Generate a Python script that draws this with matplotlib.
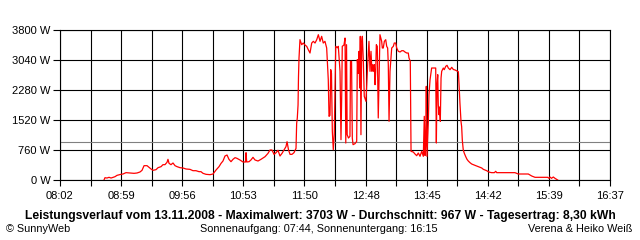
import numpy as np
import matplotlib
matplotlib.use("Agg")
import matplotlib.pyplot as plt

# time in minutes since midnight, power in W
minutes = [
    523.2, 524.1, 526.0, 527.9, 529.8, 531.6, 533.5, 535.4, 539.1, 541.0,
    543.8, 547.5, 551.3, 554.1, 556.9, 558.8, 560.7, 563.5, 565.3, 567.2,
    569.1, 571.9, 573.8, 576.6, 578.4, 580.3, 582.2, 583.1, 584.1, 585.9,
    587.8, 589.7, 591.6, 594.4, 597.2, 600.0, 603.7, 606.5, 609.3, 612.2,
    614.0, 615.9, 618.7, 622.5, 625.3, 628.1, 630.9, 632.8, 634.6, 636.5,
    638.4, 640.2, 642.1, 644.0, 645.9, 647.7, 650.5, 653.4, 655.7, 656.2,
    656.8, 659.0, 660.8, 662.7, 664.6, 667.4, 670.2, 674.0, 676.8, 678.6,
    680.5, 682.4, 684.3, 686.1, 688.0, 689.9, 691.7, 693.6, 694.6, 696.0,
    697.4, 699.2, 701.1, 703.0, 703.6, 704.2, 704.9, 705.3, 705.8, 706.7,
    708.3, 709.8, 711.4, 713.0, 714.5, 716.1, 717.7, 719.2, 720.8, 722.4,
    723.9, 725.5, 727.0, 728.5, 730.1, 731.7, 733.2, 733.9, 734.8, 735.5,
    736.2, 737.0, 737.9, 738.8, 740.2, 741.7, 742.6, 744.2, 745.1, 745.8,
    746.3, 747.9, 748.9, 749.6, 750.3, 750.9, 752.1, 753.5, 754.0, 755.0,
    755.7, 756.4, 758.2, 759.8, 760.4, 761.3, 762.0, 762.6, 763.2, 763.8,
    764.5, 765.1, 766.0, 766.9, 768.5, 770.1, 771.3, 772.3, 773.2, 774.1,
    774.9, 775.7, 776.3, 777.0, 777.6, 778.2, 779.1, 780.0, 780.7, 781.6,
    783.2, 783.8, 784.7, 785.7, 787.0, 787.9, 788.8, 789.4, 790.1, 791.0,
    791.9, 792.6, 794.1, 795.0, 796.3, 797.3, 798.8, 800.4, 802.0, 803.5,
    805.0, 806.6, 808.1, 808.8, 810.0, 810.7, 812.8, 814.4, 816.0, 817.5,
    819.1, 820.7, 822.2, 823.1, 823.8, 824.4, 825.0, 825.6, 826.9, 827.5,
    828.5, 830.0, 833.8, 834.4, 835.0, 835.7, 836.2, 836.9, 837.5, 838.1,
    838.8, 839.4, 840.9, 841.8, 843.2, 844.4, 845.6, 847.2, 848.8, 850.3,
    851.9, 855.0, 855.6, 856.5, 857.5, 858.1, 858.7, 859.6, 860.6, 861.9,
    863.1, 864.3, 865.9, 867.5, 869.0, 870.6, 872.2, 873.7, 875.3, 876.9,
    878.4, 880.0, 881.5, 883.0, 884.6, 886.2, 888.7, 890.0, 890.9, 898.7,
    908.0, 909.6, 911.1, 920.5, 922.1, 923.7, 926.8, 938.7, 939.9, 940.8,
    942.2, 943.9, 945.5, 947.1, 948.0,
]
watts = [
    0, 58, 50, 68, 50, 68, 84, 118, 144, 152,
    186, 177, 169, 177, 203, 245, 363, 363, 321, 279,
    245, 262, 312, 338, 388, 389, 448, 524, 422, 388,
    431, 363, 338, 312, 304, 279, 270, 236, 236, 211,
    211, 169, 144, 135, 152, 253, 338, 422, 481, 608,
    633, 524, 464, 524, 566, 549, 507, 456, 456, 692,
    456, 464, 507, 574, 507, 481, 524, 591, 676, 760,
    760, 650, 692, 752, 608, 676, 760, 845, 971, 760,
    650, 650, 692, 802, 1436, 1571, 1900, 2600, 3091, 3555,
    3428, 3470, 3420, 3386, 3300, 3217, 3470, 3513, 3470, 3555,
    3681, 3513, 3640, 3470, 3513, 3344, 2541, 1613, 1638, 2795,
    2700, 1233, 768, 1150, 3386, 3350, 3386, 2753, 1021, 2161,
    3386, 3420, 3597, 937, 3428, 1148, 1064, 1106, 3006, 3006,
    1064, 895, 920, 979, 3048, 2700, 3259, 2331, 3640, 1148,
    3513, 3640, 3048, 2119, 1993, 2922, 3513, 2753, 3259, 2753,
    2922, 2753, 2922, 2415, 2753, 3428, 3386, 1571, 2500, 3681,
    3513, 3344, 3344, 3513, 3555, 3386, 3344, 2922, 1487, 2753,
    3091, 3344, 3386, 3470, 3470, 3344, 3259, 3243, 3276, 3276,
    3243, 3217, 3217, 3091, 3006, 726, 709, 659, 616, 684,
    600, 726, 600, 1613, 620, 895, 2373, 600, 1487, 2161,
    2541, 2837, 2837, 937, 2415, 2668, 1908, 1655, 1850, 1487,
    2584, 2753, 2837, 2795, 2880, 2905, 2837, 2795, 2854, 2800,
    2787, 2744, 2449, 1943, 1478, 1351, 1013, 760, 676, 591,
    524, 481, 439, 405, 388, 371, 355, 338, 321, 304,
    270, 253, 236, 211, 194, 186, 186, 220, 186, 186,
    186, 169, 152, 152, 127, 101, 68, 68, 42, 76,
    42, 76, 42, 17, 0,
]

average_w = 967
x_start, x_end = 482, 997          # 08:02 .. 16:37
x_tick_labels = ["08:02", "08:59", "09:56", "10:53", "11:50",
                 "12:48", "13:45", "14:42", "15:39", "16:37"]
y_ticks = [0, 760, 1520, 2280, 3040, 3800]

title = ("Leistungsverlauf vom 13.11.2008 - Maximalwert: 3703 W - "
         "Durchschnitt: 967 W - Tagesertrag: 8,30 kWh")
footer_left = "© SunnyWeb"
footer_mid = "Sonnenaufgang: 07:44, Sonnenuntergang: 16:15"
footer_right = "Verena & Heiko Weiß"

plt.rcParams['font.family'] = ['Liberation Sans', 'DejaVu Sans']

fig = plt.figure(figsize=(6.4, 2.4), dpi=100)
fig.patch.set_facecolor('white')
ax = fig.add_axes([60/640, 60/240, 550/640, 150/240])

# grid
xt = np.linspace(x_start, x_end, 19)
ax.set_xticks(xt)
labels = []
for i in range(19):
    labels.append(x_tick_labels[i // 2] if i % 2 == 0 else "")
ax.set_xticklabels(labels)
ax.set_yticks(y_ticks)
ax.set_yticklabels([f"{v} W" for v in y_ticks])
ax.set_xlim(x_start, x_end)
ax.set_ylim(0, 3800)
ax.grid(True, color='black', linewidth=0.8)
ax.set_axisbelow(True)

ax.axhline(average_w, color='#808080', linewidth=0.8, zorder=2)
ax.plot(minutes, watts, color='red', linewidth=0.9, zorder=3)

for s in ax.spines.values():
    s.set_linewidth(0.8)
    s.set_color('black')
ax.tick_params(axis='x', length=4, width=0.8, pad=4, labelsize=8)
ax.tick_params(axis='y', length=5, width=0.8, pad=2, labelsize=8)

fig.text(0.5, 1 - 216.5/240, title, ha='center', va='center',
         fontsize=8.7, fontweight='bold')
fig.text(6/640, 1 - 229/240, footer_left, ha='left', va='center', fontsize=7.8)
fig.text(319/640, 1 - 229/240, footer_mid, ha='center', va='center', fontsize=7.8)
fig.text(632/640, 1 - 229/240, footer_right, ha='right', va='center', fontsize=7.8)

fig.savefig("out.png", dpi=100)
